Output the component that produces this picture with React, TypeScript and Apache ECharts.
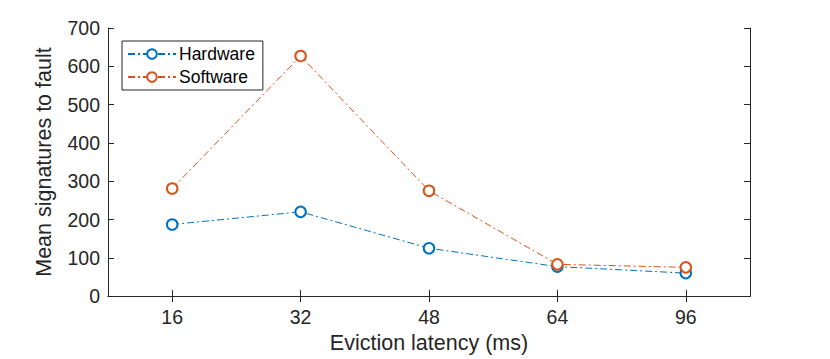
import React, { useEffect, useRef } from "react";
import * as echarts from "echarts";

const categories = ["16", "32", "48", "64", "96"];
const hardware = [187, 220, 125, 77, 60];
const software = [281, 627, 275, 83, 75];
const yMin = 0;
const yMax = 700;
const yStep = 100;

const FONT = "'Liberation Sans', Arial, Helvetica, sans-serif";
const AX = "#262626";
const BLUE = "#0072BD";
const ORANGE = "#D95319";
const DASH = [7, 3, 2, 3];

export default function App() {
  const ref = useRef<HTMLDivElement>(null);
  useEffect(() => {
    document.body.style.margin = "0";
    if (!ref.current) return;
    const chart = echarts.init(ref.current, undefined, { renderer: "svg" });
    const mkSeries = (name: string, data: number[], color: string) => ({
      name,
      type: "line",
      data,
      symbol: "emptyCircle",
      symbolSize: 10.5,
      showSymbol: true,
      lineStyle: { color, width: 1, type: DASH },
      itemStyle: { color, borderColor: color, borderWidth: 1 },
      emphasis: { disabled: true },
      z: 3,
    });
    chart.setOption({
      animation: false,
      textStyle: { fontFamily: FONT },
      grid: { left: 108, right: 80, top: 28, bottom: 62, containLabel: false },
      legend: {
        left: 122,
        top: 41,
        orient: "vertical",
        itemWidth: 48,
        itemHeight: 12,
        itemGap: 5,
        padding: [4, 8, 4, 5],
        backgroundColor: "#ffffff",
        borderColor: AX,
        borderWidth: 1,
        borderRadius: 0,
        textStyle: { fontSize: 17.5, color: "#000", fontFamily: FONT, padding: [0, 0, 0, -2] },
        data: ["Hardware", "Software"],
      },
      xAxis: [
        {
          type: "category",
          data: categories,
          boundaryGap: true,
          name: "Eviction latency (ms)",
          nameLocation: "middle",
          nameGap: 34,
          nameTextStyle: { fontSize: 21.5, color: AX, fontFamily: FONT, verticalAlign: "top" },
          axisLine: { show: true, lineStyle: { color: AX, width: 1 } },
          axisTick: { show: true, inside: true, length: 6, alignWithLabel: true, lineStyle: { color: AX } },
          axisLabel: { fontSize: 19.5, color: AX, margin: 11, fontFamily: FONT },
          splitLine: { show: false },
        },
        {
          type: "category",
          data: categories,
          position: "top",
          boundaryGap: true,
          axisLine: { show: true, lineStyle: { color: AX, width: 1 } },
          axisTick: { show: true, inside: true, length: 6, alignWithLabel: true, lineStyle: { color: AX } },
          axisLabel: { show: false },
          splitLine: { show: false },
        },
      ],
      yAxis: [
        {
          type: "value",
          min: yMin,
          max: yMax,
          interval: yStep,
          name: "Mean signatures to fault",
          nameLocation: "middle",
          nameGap: 53,
          nameTextStyle: { fontSize: 21.5, color: AX, fontFamily: FONT },
          axisLine: { show: true, lineStyle: { color: AX, width: 1 } },
          axisTick: { show: true, inside: true, length: 6, lineStyle: { color: AX } },
          axisLabel: { fontSize: 19.5, color: AX, margin: 8, fontFamily: FONT },
          splitLine: { show: false },
        },
        {
          type: "value",
          position: "right",
          min: yMin,
          max: yMax,
          interval: yStep,
          axisLine: { show: true, lineStyle: { color: AX, width: 1 } },
          axisTick: { show: true, inside: true, length: 6, lineStyle: { color: AX } },
          axisLabel: { show: false },
          splitLine: { show: false },
        },
      ],
      series: [mkSeries("Hardware", hardware, BLUE), mkSeries("Software", software, ORANGE)],
    });
    return () => chart.dispose();
  }, []);
  return <div ref={ref} style={{ width: 830, height: 359 }} />;
}
